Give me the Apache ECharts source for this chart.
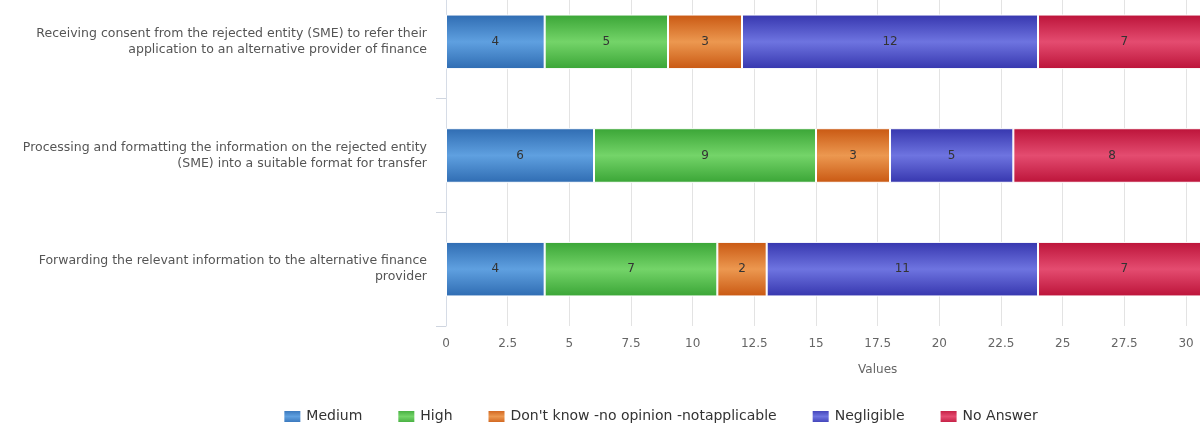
<!DOCTYPE html>
<html>
<head>
<meta charset="utf-8">
<script src="https://cdn.jsdelivr.net/npm/echarts@6/dist/echarts.min.js"></script>
<style>
  html, body { margin: 0; padding: 0; overflow: hidden; background: #fff; }
  #chart { position: absolute; left: 0; top: -20px; width: 1320px; height: 460px; }
</style>
</head>
<body>
<div id="chart"></div>
<script>
var categories = [
  "Receiving consent from the rejected entity (SME) to refer their\napplication to an alternative provider of finance",
  "Processing and formatting the information on the rejected entity\n(SME) into a suitable format for transfer",
  "Forwarding the relevant information to the alternative finance\nprovider"
];
var seriesNames = ["Medium", "High", "Don't know -no opinion -notapplicable", "Negligible", "No Answer"];
var medium = [4, 6, 4];
var high = [5, 9, 7];
var dontKnow = [3, 3, 2];
var negligible = [12, 5, 11];
var noAnswer = [7, 8, 7];
var xTicks = { min: 0, max: 35, interval: 2.5 };

// edge colour, centre colour
var palette = [
  ["#2f6cb2", "#5fa0e0"],
  ["#3aa536", "#74d469"],
  ["#c95812", "#ec9850"],
  ["#3636ae", "#6e74e0"],
  ["#bc1339", "#e44c70"]
];

function glossy(p) {
  return new echarts.graphic.LinearGradient(0, 0, 0, 1, [
    { offset: 0, color: p[0] },
    { offset: 0.5, color: p[1] },
    { offset: 1, color: p[0] }
  ]);
}

var allData = [medium, high, dontKnow, negligible, noAnswer];

var chart = echarts.init(document.getElementById("chart"));

var option = {
  animation: false,
  textStyle: { fontFamily: "DejaVu Sans" },
  grid: {
    left: 446,
    right: 7,
    top: 5,
    bottom: 114
  },
  legend: {
    bottom: 11,
    left: "center",
    itemWidth: 18,
    itemHeight: 13,
    itemGap: 34,
    icon: "rect",
    textStyle: { fontSize: 14, color: "#333" },
    data: seriesNames
  },
  xAxis: {
    type: "value",
    min: xTicks.min,
    max: xTicks.max,
    interval: xTicks.interval,
    name: "Values",
    nameLocation: "middle",
    nameGap: 38,
    nameTextStyle: { fontSize: 12, color: "#666" },
    axisLine: { show: false },
    axisTick: { show: false },
    axisLabel: { fontSize: 12, color: "#666", margin: 12 },
    splitLine: { show: true, lineStyle: { color: "#e3e3e3", width: 1 } }
  },
  yAxis: {
    type: "category",
    inverse: true,
    data: categories,
    axisLine: { show: true, lineStyle: { color: "#d6dce6" } },
    axisTick: { show: true, length: 10, lineStyle: { color: "#cfd5df" } },
    axisLabel: {
      fontSize: 12.5,
      color: "#555",
      lineHeight: 16,
      margin: 19,
      align: "right",
      padding: [0, 0, 8, 0]
    }
  },
  series: seriesNames.map(function (name, i) {
    return {
      name: name,
      type: "bar",
      stack: "total",
      barCategoryGap: "52%",
      data: allData[i],
      itemStyle: {
        color: glossy(palette[i]),
        borderColor: "#fff",
        borderWidth: 1
      },
      label: {
        show: true,
        position: "inside",
        fontSize: 12,
        color: "#333"
      }
    };
  })
};

chart.setOption(option);
</script>
</body>
</html>
